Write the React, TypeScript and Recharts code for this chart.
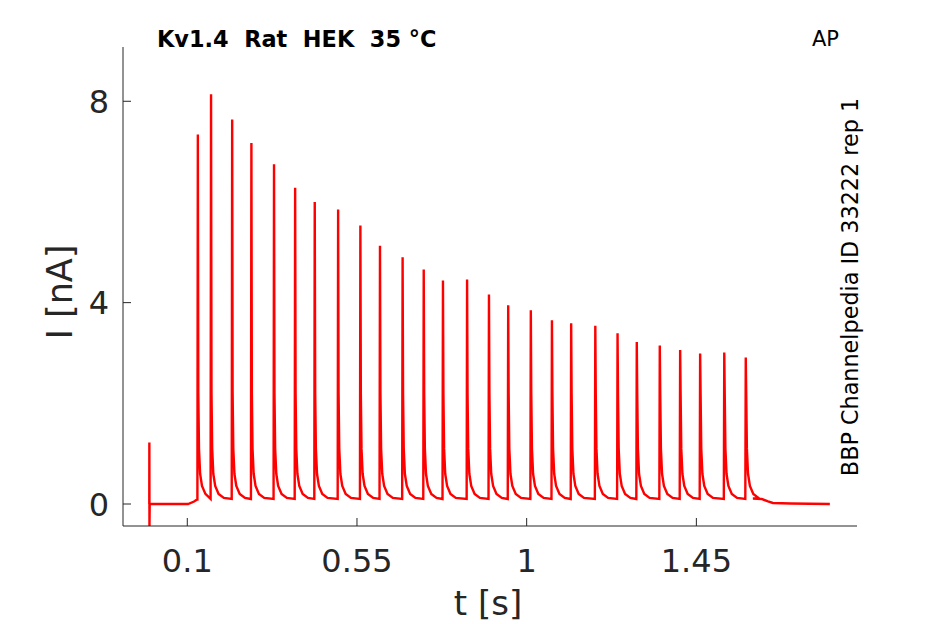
import React from 'react';
import { LineChart, Line, XAxis, YAxis } from 'recharts';

// Spike (action-potential clamp) peak times [s] and peak currents [nA]
const spikeTimes = [
  0.128, 0.163, 0.219, 0.27, 0.33, 0.386, 0.438, 0.5, 0.559, 0.611, 0.671, 0.727, 0.778, 0.842,
  0.9, 0.951, 1.011, 1.067, 1.118, 1.182, 1.241, 1.292, 1.353, 1.407, 1.46, 1.524, 1.581,
];
const spikePeaks = [
  7.34, 8.14, 7.64, 7.17, 6.75, 6.28, 6.0, 5.85, 5.53, 5.13, 4.9, 4.66, 4.44, 4.46,
  4.16, 3.95, 3.85, 3.65, 3.59, 3.54, 3.39, 3.22, 3.15, 3.06, 2.99, 3.01, 2.91,
];
// Decay after each spike: time after peak [s] and current [nA]
const tailOffsets = [0.0012, 0.003, 0.006, 0.011, 0.02, 0.034];
const tailValues = [2.2, 1.1, 0.6, 0.36, 0.2, 0.12];
// Holding segment with the start artefact, and the end of the recording
const startTrace: [number, number][] = [
  [-0.0008, 0], [-0.0006, 1.22], [-0.0003, -0.45], [0.0003, 0], [0.05, 0], [0.102, 0], [0.118, 0.05], [0.126, 0.09],
];
const endTrace: [number, number][] = [
  [1.6, 0.11], [1.623, 0.1], [1.64, 0.05], [1.653, 0.02], [1.7, 0.01], [1.804, 0],
];
const baseline = 0.1;

const xTicks = [0.1, 0.55, 1, 1.45];
const yTicks = [0, 4, 8];
const xDomain = [-0.0705, 1.876];
const yDomain = [-0.437, 9.078];

const buildTrace = () => {
  const pts: { t: number; i: number }[] = startTrace.map(([t, i]) => ({ t, i }));
  spikeTimes.forEach((t0, k) => {
    const last = pts[pts.length - 1];
    const preVal = last && last.t > t0 - 0.012 ? last.i : baseline;
    pts.push({ t: t0 - 0.0012, i: preVal });
    pts.push({ t: t0, i: spikePeaks[k] });
    const next = k + 1 < spikeTimes.length ? spikeTimes[k + 1] : Infinity;
    tailOffsets.forEach((dt, j) => {
      if (t0 + dt < next - 0.004) pts.push({ t: t0 + dt, i: tailValues[j] });
    });
  });
  endTrace.forEach(([t, i]) => pts.push({ t, i }));
  return pts;
};
const data = buildTrace();

const FONT = 'DejaVu Sans';
const AX = '#262626';

const XTick = (props: any) => {
  const { x, y, payload } = props;
  return (
    <g>
      <line x1={x} x2={x} y1={y} y2={y - 8} stroke={AX} strokeWidth={1} />
      <text x={x} y={y + 46} textAnchor="middle" fontSize={32} fontFamily={FONT} fill={AX}>
        {String(payload.value)}
      </text>
    </g>
  );
};

const YTick = (props: any) => {
  const { x, y, payload } = props;
  return (
    <g>
      <line x1={x} x2={x + 8} y1={y} y2={y} stroke={AX} strokeWidth={1} />
      <text x={x - 14} y={y + 11.5} textAnchor="end" fontSize={32} fontFamily={FONT} fill={AX}>
        {String(payload.value)}
      </text>
    </g>
  );
};

export default function App() {
  return (
    <div style={{ position: 'absolute', left: 0, top: 0, width: 945, height: 624, background: '#fff' }}>
      <LineChart
        width={945}
        height={624}
        data={data}
        margin={{ top: 47, right: 88, bottom: 38, left: 63 }}
      >
        <XAxis
          dataKey="t"
          type="number"
          domain={xDomain}
          ticks={xTicks}
          interval={0}
          allowDataOverflow
          height={60}
          tickSize={0}
          tickMargin={0}
          tickLine={false}
          axisLine={{ stroke: AX, strokeWidth: 1 }}
          tick={<XTick />}
        />
        <YAxis
          type="number"
          domain={yDomain}
          ticks={yTicks}
          interval={0}
          allowDataOverflow
          width={60}
          tickSize={0}
          tickMargin={0}
          tickLine={false}
          axisLine={{ stroke: AX, strokeWidth: 1 }}
          tick={<YTick />}
        />
        <Line
          dataKey="i"
          type="linear"
          stroke="#ff0000"
          strokeWidth={2.4}
          dot={false}
          isAnimationActive={false}
        />
      </LineChart>
      <svg
        width={945}
        height={624}
        style={{ position: 'absolute', left: 0, top: 0, pointerEvents: 'none' }}
      >
        <text x={157} y={47} fontSize={22.4} fontWeight="bold" fontFamily={FONT} fill="#000" style={{ whiteSpace: 'pre' }}>
          {'Kv1.4  Rat  HEK  35 °C'}
        </text>
        <text x={839} y={46} textAnchor="end" fontSize={21} fontFamily={FONT} fill="#000">
          AP
        </text>
        <text
          x={858}
          y={287}
          textAnchor="middle"
          fontSize={22.3}
          fontFamily={FONT}
          fill="#000"
          transform="rotate(-90 858 287)"
        >
          BBP Channelpedia ID 33222 rep 1
        </text>
        <text x={488} y={615} textAnchor="middle" fontSize={34} fontFamily={FONT} fill={AX}>
          t [s]
        </text>
        <text
          x={72}
          y={292}
          textAnchor="middle"
          fontSize={35}
          fontFamily={FONT}
          fill={AX}
          transform="rotate(-90 72 292)"
        >
          I [nA]
        </text>
      </svg>
    </div>
  );
}
